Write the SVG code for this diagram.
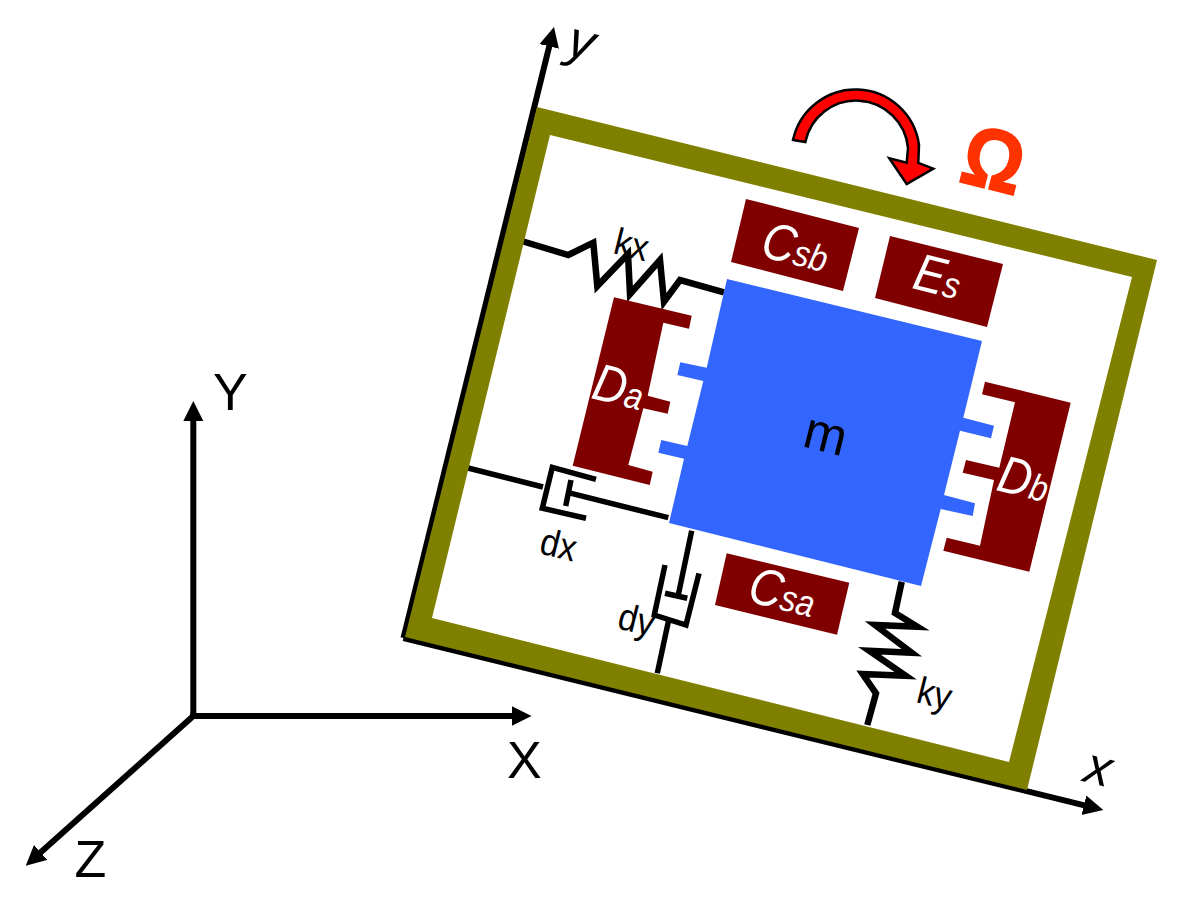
<svg xmlns="http://www.w3.org/2000/svg" width="1182" height="903" viewBox="0 0 1182 903">
<style>
text{font-family:"Liberation Sans",Arial,sans-serif}
.it{font-style:italic}
.w{fill:#fff;font-style:italic;font-size:50px}
.w tspan{font-size:35px}
.lb{fill:#000;font-size:36px}
.ax{fill:#000;font-size:52px}
.ln{fill:none;stroke:#000;stroke-width:6;stroke-linejoin:miter}
.spr{stroke-width:6.5}
.dmp{stroke-width:5.5}
.red{fill:#800000}
</style>
<defs>
<marker id="ah" markerUnits="userSpaceOnUse" markerWidth="22" markerHeight="22" refX="10" refY="10" orient="auto"><path d="M0 0L20 10L0 20Z" fill="#000"/></marker>
</defs>
<rect width="1182" height="903" fill="#fff"/>
<g id="connectors">
<path class="ln" d="M403.5 638L551.6 36.7" marker-end="url(#ah)"/>
<path class="ln" d="M403.5 638L1093.6 807.6" marker-end="url(#ah)"/>
<path class="ln" d="M193.3 716V411" marker-end="url(#ah)"/>
<path class="ln" d="M190.3 716H521.5" marker-end="url(#ah)"/>
<path class="ln" d="M193.3 716L33.2 859" marker-end="url(#ah)"/>
<path class="ln spr" d="M520 240.5L568.3 255L593.3 242.7L597.3 286L628 254L630 294L660 260L664 301.7L680 280L724 292.3"/>
<path class="ln spr" d="M901.7 581.7L895 613L917.3 626.7L875 625L911.7 652.7L869.3 650.7L905.7 675.7L862.7 674L876 693.3L867.3 725"/>
<path class="ln dmp" d="M468 468L543 487M596 479.3L552.3 467.3L542.3 508.3L586 518.3M571 480L565.7 506M568.3 492.7L668.3 517.7"/>
<path class="ln dmp" d="M691.7 530.7L678.3 595M665 593.3L687.3 598.3M665 565L654.3 615L686 625L699 573.3M668.3 621.7L657.3 673.3"/>
</g>
<g id="frame"><path fill="#808000" fill-rule="evenodd" d="M537 107L1157 260L1027 790L405 637ZM550 135L432 618L1009 762L1132 277Z"/></g>
<g id="mass"><path fill="#36f" d="M727 279L982 341L963.3 417.7L994 425.7L991 438.3L960 430.7L944 495L975 503.3L972.7 516L940.7 509L921 586L669 523L684 458.7L658.3 452.7L661.3 440L687.3 446L703.3 381L677.3 375L680.3 362.3L706.7 367.7Z"/><text font-size="50" transform="translate(801 446) rotate(14) scale(1.02 1.05)">m</text></g>
<g id="Da"><path class="red" d="M614 297.3L691.7 315.7L689 328.7L663.3 322.7L647.7 395.7L670.3 401.7L667.7 413.7L643.3 408.3L628.3 465L652.7 471.7L649.7 485L572.7 465.7Z"/><text class="w" transform="translate(590 398) rotate(14) scale(.92 1.05)">D<tspan>a</tspan></text></g>
<g id="Db"><path class="red" d="M985 381.7L1070.7 402.7L1029.3 571.7L943.3 550.7L946.7 537.7L980 545.7L994 480L962.7 472.7L966 460L999.3 467.7L1015 402.3L982 394.3Z"/><text class="w" transform="translate(995 490) rotate(14) scale(.92 1.05)">D<tspan>b</tspan></text></g>
<g id="Csb"><path class="red" d="M746 199L859 228L843 291L731 262Z"/><text class="w" transform="translate(759 256) rotate(14) scale(.92 1.05)">C<tspan>sb</tspan></text></g>
<g id="Es"><path class="red" d="M890 236L1003 264L987 327L875 298Z"/><text class="w" transform="translate(911 288) rotate(14) scale(.92 1.05)">E<tspan>s</tspan></text></g>
<g id="Csa"><path class="red" d="M726.7 553.3L849.3 582.7L837 634.7L715 605Z"/><text class="w" transform="translate(746 601) rotate(14) scale(.92 1.05)">C<tspan>sa</tspan></text></g>
<g id="rotation"><path fill="#f00" stroke="#000" stroke-width="2.5" d="M793 140A64 64 0 0 1 919 145L918.3 163L933.3 168.7L906.7 184L889.3 158.3L906.7 162.7L908 148A52 52 0 0 0 805.3 142Z"/><text font-size="76" font-weight="bold" fill="#f30" stroke="#f30" stroke-width="1.5" transform="translate(957 181) rotate(14) scale(1 1.13)">Ω</text></g>
<g id="labels">
<text class="lb" transform="translate(612 253) rotate(14) scale(.95 1.05)">kx</text>
<text class="lb" transform="translate(915 702) rotate(14) scale(.95 1.05)">ky</text>
<text class="lb" transform="translate(538 553) rotate(14) scale(.95 1.05)">dx</text>
<text class="lb" transform="translate(616 628) rotate(14) scale(.95 1.05)">dy</text>
<text class="ax" x="213" y="410">Y</text>
<text class="ax" x="507" y="778">X</text>
<text class="ax" x="74.500" y="877">Z</text>
<text class="ax it" transform="translate(1082 781) rotate(14)">x</text>
<text class="ax it" transform="translate(565 55) rotate(14)">y</text>
</g>
</svg>
